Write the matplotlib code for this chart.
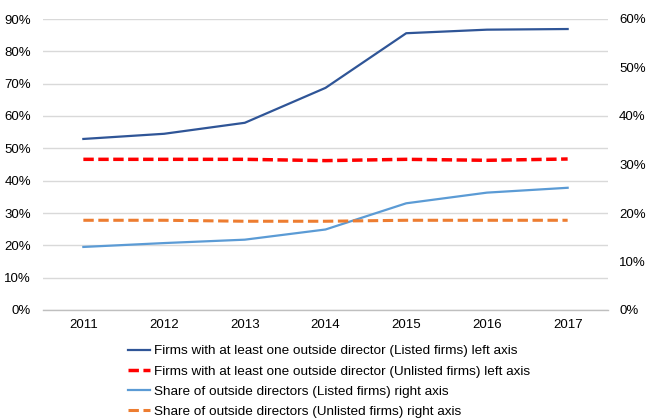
import matplotlib
matplotlib.use("Agg")
import matplotlib.pyplot as plt
from matplotlib.ticker import FuncFormatter

years = ["2011", "2012", "2013", "2014", "2015", "2016", "2017"]
firms_listed = [52.9, 54.5, 57.9, 68.7, 85.6, 86.7, 86.9]      # left axis, %
firms_unlisted = [46.6, 46.6, 46.6, 46.2, 46.6, 46.3, 46.7]    # left axis, %
share_listed = [13.0, 13.8, 14.5, 16.6, 22.0, 24.2, 25.2]      # right axis, %
share_unlisted = [18.5, 18.5, 18.3, 18.3, 18.5, 18.5, 18.5]    # right axis, %

labels = [
    "Firms with at least one outside director (Listed firms) left axis",
    "Firms with at least one outside director (Unlisted firms) left axis",
    "Share of outside directors (Listed firms) right axis",
    "Share of outside directors (Unlisted firms) right axis",
]

plt.rcParams['font.family'] = ['Liberation Sans', 'DejaVu Sans']
W, H = 652, 420
fig = plt.figure(figsize=(W / 100, H / 100), dpi=100)
ax = fig.add_axes([43 / W, 1 - 310 / H, (608 - 43) / W, (310 - 19) / H])
ax2 = ax.twinx()

x = list(range(len(years)))
l1, = ax.plot(x, firms_listed, color="#2F5597", lw=1.6, label=labels[0], zorder=3)
l2, = ax.plot(x, firms_unlisted, color="#FF0000", lw=2.5, dashes=(3.0, 1.3), label=labels[1], zorder=3)
l3, = ax2.plot(x, share_listed, color="#5B9BD5", lw=1.6, label=labels[2], zorder=3)
l4, = ax2.plot(x, share_unlisted, color="#ED7D31", lw=2.2, dashes=(3.4, 1.5), label=labels[3], zorder=3)

ax.set_xlim(-0.5, len(years) - 0.5)
ax.set_ylim(0, 90)
ax2.set_ylim(0, 60)
ax.set_yticks(range(0, 91, 10))
ax2.set_yticks(range(0, 61, 10))
pct = FuncFormatter(lambda v, p: f"{int(round(v))}%")
ax.yaxis.set_major_formatter(pct)
ax2.yaxis.set_major_formatter(pct)
ax.set_xticks(x)
ax.set_xticklabels(years)

for a in (ax, ax2):
    for s in a.spines.values():
        s.set_visible(False)
    a.tick_params(length=0, labelsize=9.5, colors="#000000")
ax.spines['bottom'].set_visible(True)
ax.spines['bottom'].set_color("#BFBFBF")
ax.spines['bottom'].set_linewidth(1.0)
ax.tick_params(axis='y', pad=8.6)
ax2.tick_params(axis='y', pad=8.0)
ax.tick_params(axis='x', pad=6.5)
ax.yaxis.grid(True, color="#D9D9D9", lw=1.0)
ax.set_axisbelow(True)

fig.legend(handles=[l1, l2, l3, l4], loc="upper left",
           bbox_to_anchor=(128 / W, 1 - 345 / H), frameon=False,
           fontsize=9.7, borderpad=0, borderaxespad=0, labelspacing=0.58,
           handlelength=1.65, handletextpad=0.25)

fig.savefig("out.png", dpi=100)
